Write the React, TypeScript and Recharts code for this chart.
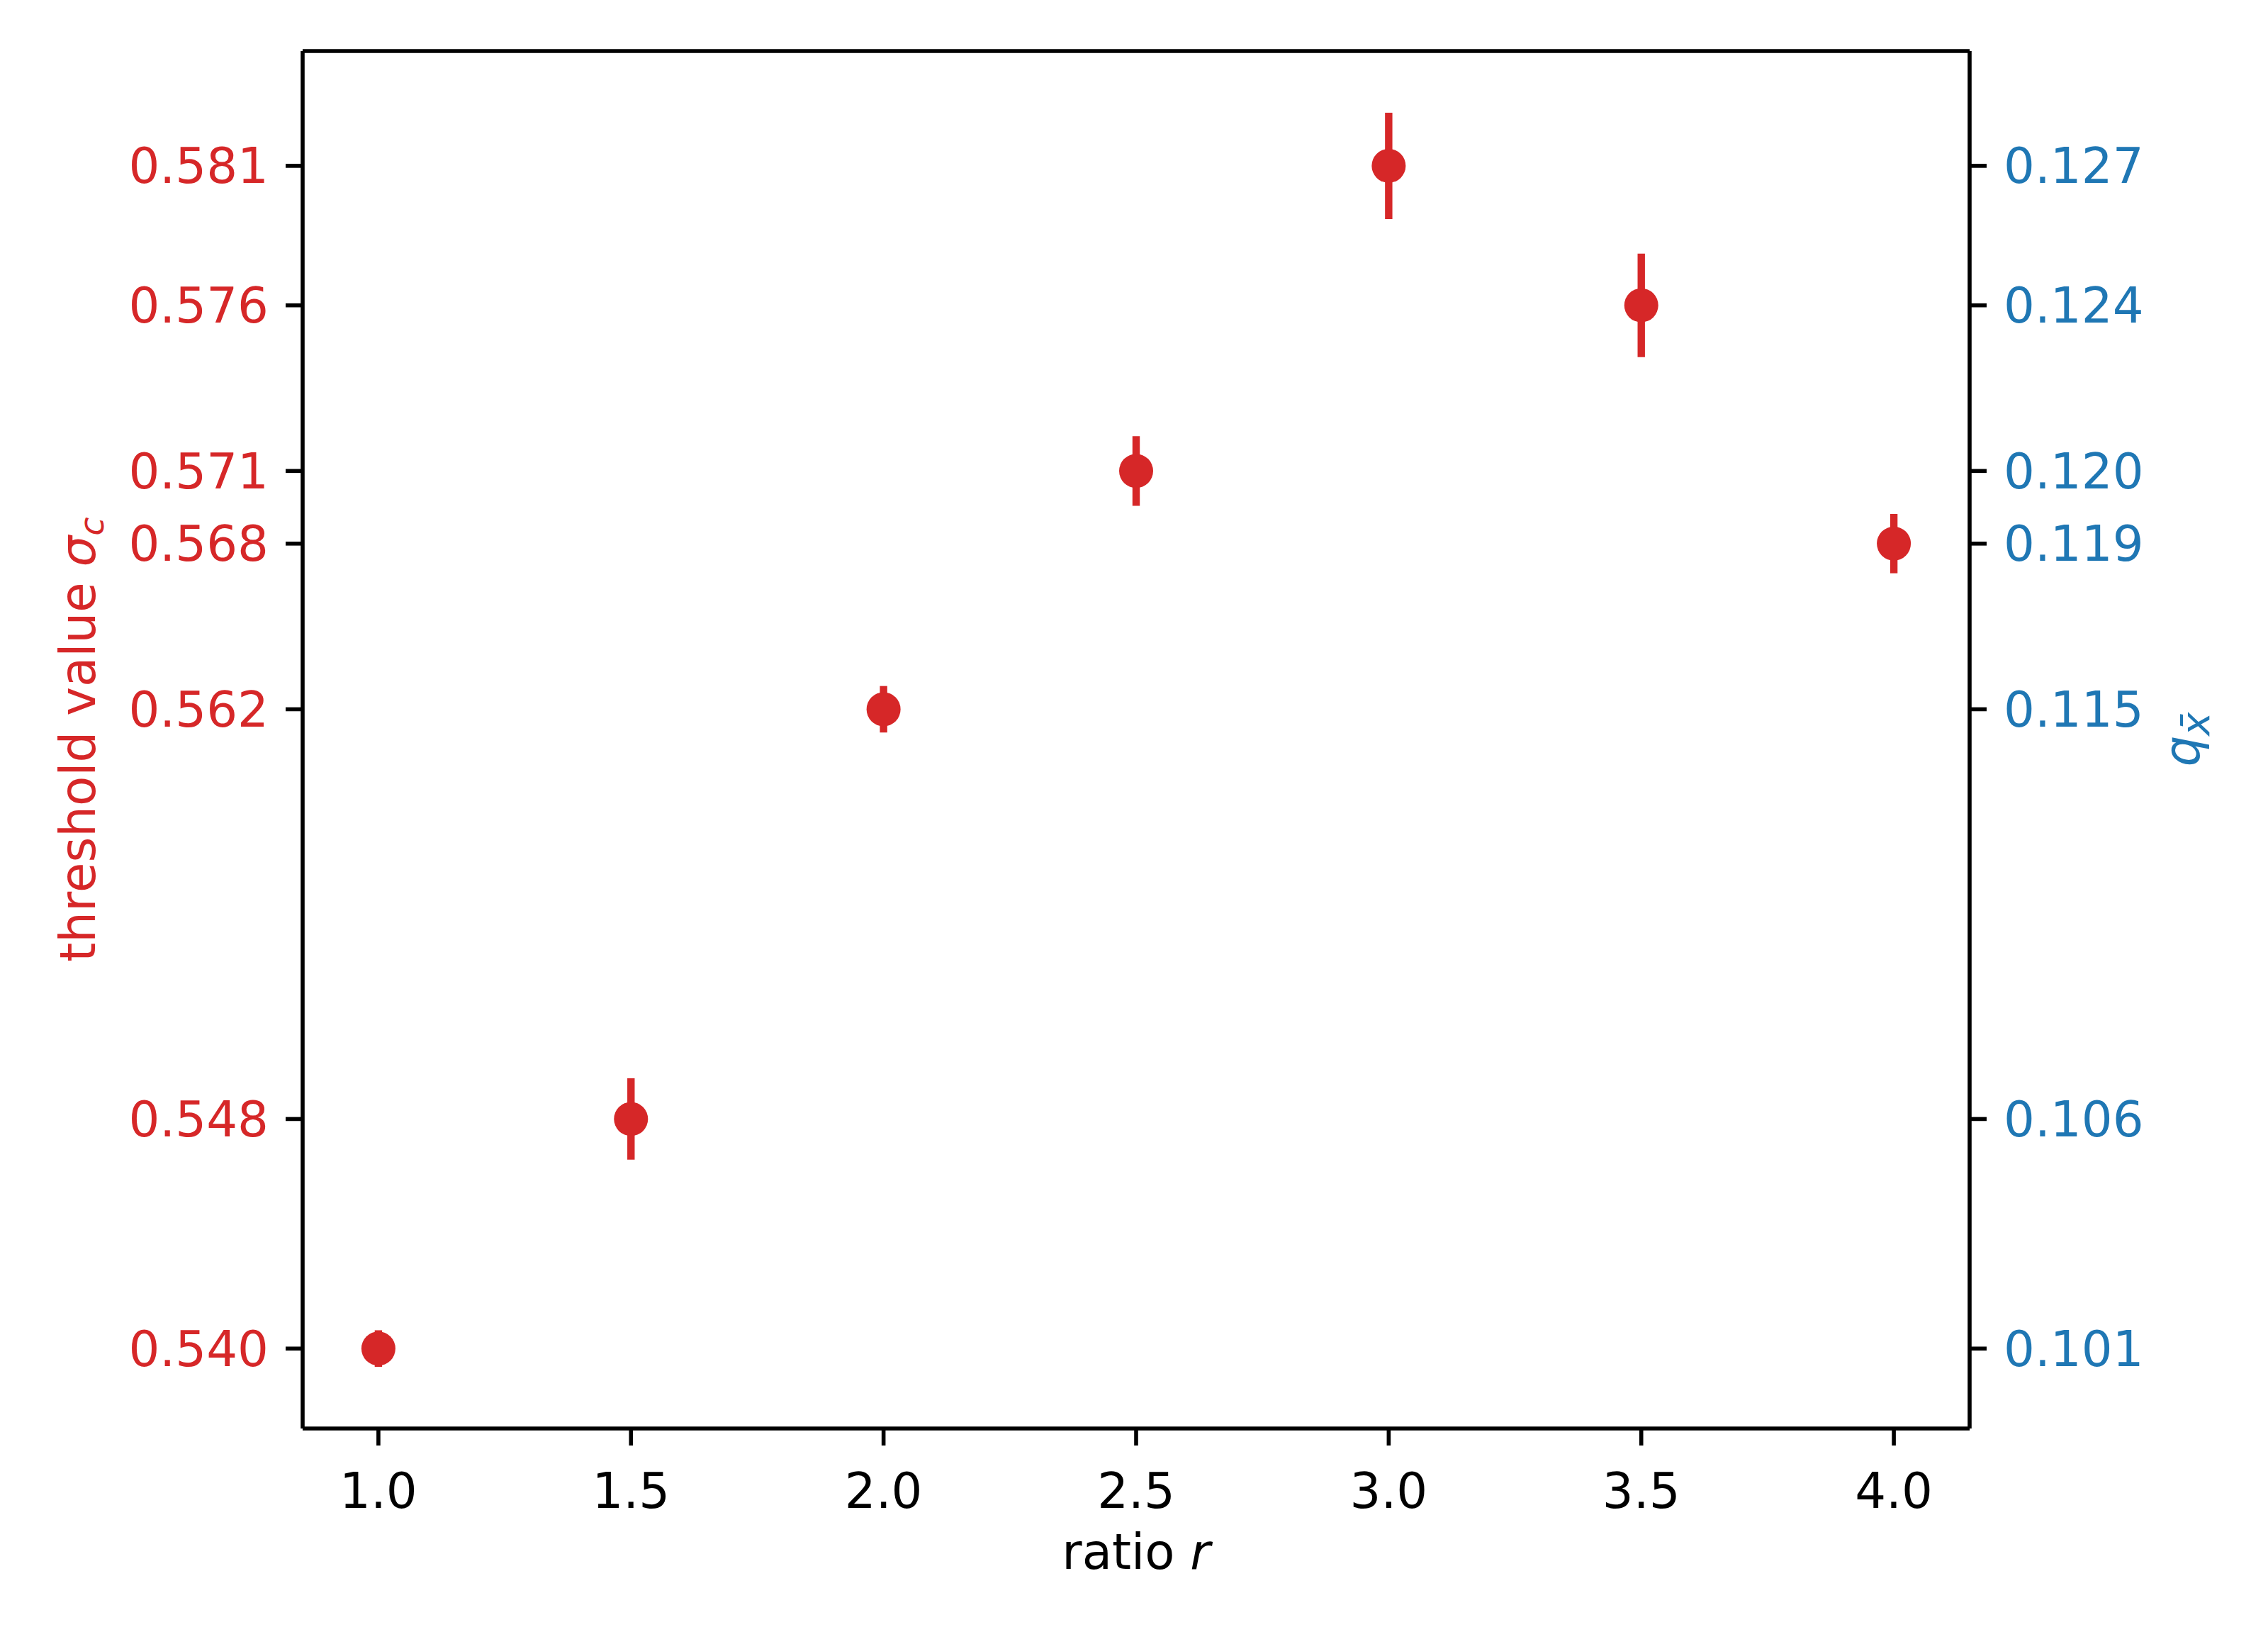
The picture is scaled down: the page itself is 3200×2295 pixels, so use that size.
import React from 'react'
import { ScatterChart, Scatter, XAxis, YAxis, ErrorBar } from 'recharts'

// ratio r on the x axis
const ratio = [1.0, 1.5, 2.0, 2.5, 3.0, 3.5, 4.0]
// threshold value sigma_c and its error
const sigma = [0.5404, 0.5483, 0.5624, 0.5706, 0.5811, 0.5763, 0.5681]
const sigmaErr = [0.00063, 0.0014, 0.0008, 0.0012, 0.00183, 0.00178, 0.00102]
// q_xbar shown on the right axis, one per point
const qValues = [0.101, 0.106, 0.115, 0.12, 0.127, 0.124, 0.119]
const xTicks = [1.0, 1.5, 2.0, 2.5, 3.0, 3.5, 4.0]

const RED = '#d62728'
const BLUE = '#1f77b4'
const FONT = '"DejaVu Sans", sans-serif'
const FS = 69
const Y_DOMAIN = [0.53765, 0.58505]

const data = ratio.map((r, i) => ({ r, sigma: sigma[i], err: sigmaErr[i] }))

const LeftTitle = () => (
  <text transform="translate(134, 1043) rotate(-90)" textAnchor="middle" fill={RED} fontSize={FS} fontFamily={FONT}>
    threshold value <tspan fontStyle="italic">σ</tspan>
    <tspan fontStyle="italic" fontSize={48} dy={12}>c</tspan>
  </text>
)

const RightTitle = () => (
  <text transform="translate(3103, 1043) rotate(-90)" textAnchor="middle" fill={BLUE} fontSize={FS} fontFamily={FONT}>
    <tspan fontStyle="italic">q</tspan>
    <tspan fontStyle="italic" fontSize={56} dy={14}>x̄</tspan>
  </text>
)

const BottomTitle = () => (
  <text x={1603} y={2213} textAnchor="middle" fill="#000" fontSize={FS} fontFamily={FONT}>
    ratio <tspan fontStyle="italic">r</tspan>
  </text>
)

const dot = (props: any) => <circle cx={props.cx} cy={props.cy} r={24} fill={RED} />

const axisLine = { stroke: '#000', strokeWidth: 5.6 }
const tickLine = { stroke: '#000', strokeWidth: 5.6 }

export default function App() {
  return (
    <div style={{ position: 'absolute', left: 0, top: 0, width: 3200, height: 2295, background: '#fff' }}>
      <ScatterChart width={3200} height={2295} margin={{ top: 71, right: 221, bottom: 180, left: 227 }}>
        <XAxis
          type="number"
          dataKey="r"
          domain={[0.85, 4.15]}
          allowDataOverflow
          ticks={xTicks}
          interval={0}
          tickFormatter={(v: number) => v.toFixed(1)}
          height={100}
          tickSize={24}
          tickMargin={39}
          axisLine={axisLine}
          tickLine={tickLine}
          tick={{ fill: '#000', fontSize: FS, fontFamily: FONT }}
          label={<BottomTitle />}
        />
        <XAxis
          xAxisId="top"
          orientation="top"
          type="number"
          domain={[0.85, 4.15]}
          allowDataOverflow
          height={1}
          tick={false}
          tickLine={false}
          axisLine={axisLine}
        />
        <YAxis
          type="number"
          dataKey="sigma"
          domain={Y_DOMAIN}
          allowDataOverflow
          ticks={sigma}
          interval={0}
          tickFormatter={(v: number) => v.toFixed(3)}
          width={200}
          tickSize={24}
          tickMargin={24}
          axisLine={axisLine}
          tickLine={tickLine}
          tick={{ fill: RED, fontSize: FS, fontFamily: FONT }}
          label={<LeftTitle />}
        />
        <YAxis
          yAxisId="right"
          orientation="right"
          type="number"
          dataKey="sigma"
          domain={Y_DOMAIN}
          allowDataOverflow
          ticks={sigma}
          interval={0}
          tickFormatter={(v: number) => {
            const i = sigma.indexOf(v)
            return i >= 0 ? qValues[i].toFixed(3) : ''
          }}
          width={200}
          tickSize={24}
          tickMargin={24}
          axisLine={axisLine}
          tickLine={tickLine}
          tick={{ fill: BLUE, fontSize: FS, fontFamily: FONT }}
          label={<RightTitle />}
        />
        <Scatter data={data} dataKey="sigma" fill={RED} shape={dot} isAnimationActive={false}>
          <ErrorBar dataKey="err" direction="y" width={0} stroke={RED} strokeWidth={10.4} isAnimationActive={false} />
        </Scatter>
      </ScatterChart>
    </div>
  )
}
